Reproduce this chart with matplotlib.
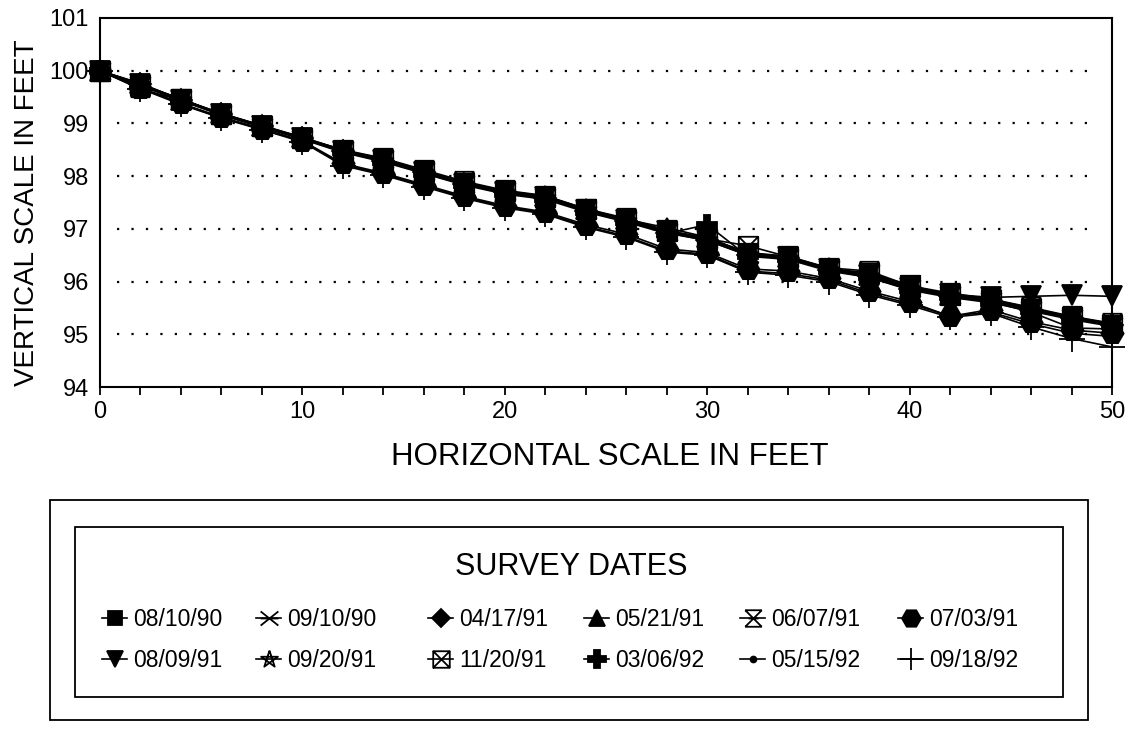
import matplotlib
matplotlib.use("Agg")
import matplotlib.pyplot as plt
from matplotlib.path import Path
from matplotlib.patches import Rectangle
import math

plt.rcParams['font.family'] = ['Liberation Sans', 'DejaVu Sans']

# ---------------- data ----------------
distance_ft = [0, 2, 4, 6, 8, 10, 12, 14, 16, 18, 20, 22, 24, 26, 28, 30,
               32, 34, 36, 38, 40, 42, 44, 46, 48, 50]

survey_dates = ["08/10/90", "09/10/90", "04/17/91", "05/21/91", "06/07/91", "07/03/91",
                "08/09/91", "09/20/91", "11/20/91", "03/06/92", "05/15/92", "09/18/92"]

elev_081090 = [100.00, 99.75, 99.46, 99.19, 98.96, 98.73, 98.50, 98.31, 98.09, 97.88, 97.72, 97.62, 97.38,
               97.18, 96.96, 96.82, 96.54, 96.47, 96.25, 96.14, 95.90, 95.76, 95.66, 95.50, 95.33, 95.20]
elev_091090 = [100.00, 99.73, 99.47, 99.17, 98.94, 98.71, 98.49, 98.33, 98.10, 97.86, 97.71, 97.61, 97.36,
               97.16, 96.94, 96.80, 96.52, 96.45, 96.24, 96.16, 95.88, 95.75, 95.64, 95.47, 95.30, 95.16]
elev_041791 = [100.00, 99.74, 99.44, 99.18, 98.95, 98.72, 98.47, 98.29, 98.07, 97.85, 97.69, 97.59, 97.34,
               97.15, 96.93, 96.78, 96.50, 96.44, 96.22, 96.10, 95.86, 95.72, 95.63, 95.46, 95.31, 95.17]
elev_052191 = [100.00, 99.76, 99.45, 99.19, 98.96, 98.74, 98.49, 98.30, 98.08, 97.87, 97.70, 97.62, 97.37,
               97.18, 97.02, 96.84, 96.53, 96.47, 96.25, 96.12, 95.87, 95.74, 95.66, 95.49, 95.33, 95.19]
elev_060791 = [100.00, 99.70, 99.46, 99.17, 98.96, 98.72, 98.50, 98.34, 98.12, 97.90, 97.73, 97.63, 97.38,
               97.20, 96.97, 96.83, 96.55, 96.48, 96.26, 96.20, 95.92, 95.78, 95.67, 95.51, 95.34, 95.21]
elev_070391 = [100.00, 99.68, 99.38, 99.12, 98.90, 98.67, 98.24, 98.06, 97.84, 97.62, 97.44, 97.32, 97.08,
               96.90, 96.62, 96.55, 96.24, 96.20, 96.06, 95.82, 95.62, 95.34, 95.47, 95.24, 95.08, 95.02]
elev_080991 = [100.00, 99.74, 99.45, 99.18, 98.95, 98.73, 98.48, 98.30, 98.08, 97.86, 97.70, 97.60, 97.36,
               97.17, 96.95, 96.80, 96.52, 96.46, 96.24, 96.12, 95.88, 95.76, 95.70, 95.72, 95.74, 95.72]
elev_092091 = [100.00, 99.65, 99.44, 99.16, 98.94, 98.71, 98.46, 98.28, 98.06, 97.84, 97.68, 97.58, 97.35,
               97.15, 96.92, 96.78, 96.50, 96.43, 96.22, 96.08, 95.85, 95.72, 95.62, 95.42, 95.12, 95.10]
elev_112091 = [100.00, 99.73, 99.46, 99.18, 98.95, 98.72, 98.48, 98.31, 98.09, 97.87, 97.71, 97.61, 97.37,
               97.17, 96.95, 96.81, 96.68, 96.47, 96.24, 96.16, 95.93, 95.74, 95.65, 95.48, 95.32, 95.18]
elev_030692 = [100.00, 99.72, 99.43, 99.16, 98.93, 98.70, 98.45, 98.27, 98.05, 97.83, 97.66, 97.56, 97.32,
               97.13, 96.91, 97.08, 96.48, 96.42, 96.20, 96.08, 95.84, 95.70, 95.60, 95.44, 95.28, 95.15]
elev_051592 = [100.00, 99.67, 99.37, 99.11, 98.89, 98.66, 98.22, 98.04, 97.82, 97.60, 97.42, 97.30, 97.05,
               96.86, 96.58, 96.52, 96.20, 96.15, 96.03, 95.78, 95.58, 95.35, 95.42, 95.20, 95.02, 94.96]
elev_091892 = [100.00, 99.66, 99.36, 99.10, 98.88, 98.65, 98.20, 98.02, 97.80, 97.58, 97.40, 97.28, 97.03,
               96.84, 96.56, 96.50, 96.18, 96.12, 96.00, 95.75, 95.55, 95.32, 95.40, 95.14, 94.92, 94.76]

elevations = [elev_081090, elev_091090, elev_041791, elev_052191, elev_060791, elev_070391,
              elev_080991, elev_092091, elev_112091, elev_030692, elev_051592, elev_091892]

y_ticks = [94, 95, 96, 97, 98, 99, 100, 101]
x_major_ticks = [0, 10, 20, 30, 40, 50]
x_minor_ticks = list(range(0, 51, 2))

# ---------------- marker shapes (style) ----------------
M, L = Path.MOVETO, Path.LINETO
x_with_bar = Path([(-1, -0.8), (1, 0.8), (-1, 0.8), (1, -0.8), (-1, 0), (1, 0)],
                  [M, L, M, L, M, L])
hourglass = Path([(-1, 1), (1, 1), (-1, -1), (1, -1), (-1, 1), (1, -1), (1, 1), (-1, -1),
                  (-0.6, 0), (0.6, 0)],
                 [M, L, M, L, M, L, M, L, M, L])
box_x = Path([(-1, -1), (1, -1), (1, 1), (-1, 1), (-1, -1), (1, 1), (-1, 1), (1, -1)],
             [M, L, L, L, L, L, M, L])
pent_pts = [(math.cos(math.radians(90 + 144 * k)), math.sin(math.radians(90 + 144 * k)))
            for k in range(6)]
pentagram = Path(pent_pts, [M] + [L] * 5)

styles = [
    dict(marker='s', ms=12, mfc='black'),
    dict(marker=x_with_bar, ms=15, mfc='none'),
    dict(marker='D', ms=11, mfc='black'),
    dict(marker='^', ms=14, mfc='black'),
    dict(marker=hourglass, ms=14, mfc='none'),
    dict(marker='H', ms=16, mfc='black'),
    dict(marker='v', ms=14, mfc='black'),
    dict(marker=pentagram, ms=15, mfc='none'),
    dict(marker=box_x, ms=14, mfc='none'),
    dict(marker='P', ms=15, mfc='black'),
    dict(marker='o', ms=5, mfc='black'),
    dict(marker='+', ms=19, mfc='none'),
]

W, H = 1134, 734
fig = plt.figure(figsize=(W / 100, H / 100), dpi=100)
ax = fig.add_axes([100 / W, 1 - 387 / H, 1012 / W, (387 - 18) / H])

handles = []
for label, vals, st in zip(survey_dates, elevations, styles):
    h, = ax.plot(distance_ft, vals, color='black', lw=1.2, marker=st['marker'],
                 markersize=st['ms'], markerfacecolor=st['mfc'], markeredgecolor='black',
                 markeredgewidth=1.3, label=label, clip_on=False, zorder=3)
    handles.append(h)

ax.set_xlim(x_major_ticks[0], x_major_ticks[-1])
ax.set_ylim(y_ticks[0], y_ticks[-1])
ax.set_xticks(x_major_ticks)
ax.set_xticks(x_minor_ticks, minor=True)
ax.set_yticks(y_ticks)
ax.tick_params(axis='x', which='both', direction='out', length=6, width=1.3,
               labelsize=17, pad=4, colors='black')
ax.tick_params(axis='y', length=0, labelsize=17, pad=8)

# dotted gridlines (not touching the spines)
for lvl in y_ticks[1:-1]:
    ax.hlines(lvl, 0.85, 49.3, colors='black', linestyles=(0, (1, 5.5)), lw=1.6, zorder=1)

for sp in ax.spines.values():
    sp.set_linewidth(1.5)

fig.text(610 / W, 1 - 457 / H, "HORIZONTAL SCALE IN FEET", ha='center', va='center', fontsize=22.5)
fig.text(27 / W, 1 - 213 / H, "VERTICAL SCALE IN FEET", ha='center', va='center',
         rotation=90, fontsize=20)

# legend frames
fig.add_artist(Rectangle((50 / W, 1 - 720 / H), (1088 - 50) / W, (720 - 500) / H,
                         transform=fig.transFigure, fill=False, lw=1.3, ec='black'))
fig.add_artist(Rectangle((75 / W, 1 - 697 / H), (1063 - 75) / W, (697 - 527) / H,
                         transform=fig.transFigure, fill=False, lw=1.3, ec='black'))
fig.text(571 / W, 1 - 567 / H, "SURVEY DATES", ha='center', va='center', fontsize=22)

col_x = [102, 256, 428, 584, 740, 898]
for j, cx in enumerate(col_x):
    leg = fig.legend(handles=[handles[j], handles[j + 6]], loc='center left',
                     bbox_to_anchor=(cx / W, 1 - 640 / H), frameon=False, fontsize=16.5,
                     handlelength=1.1, handletextpad=0.25, labelspacing=0.8, borderpad=0,
                     borderaxespad=0, numpoints=1, markerscale=0.85)

fig.savefig("out.png", dpi=100)
